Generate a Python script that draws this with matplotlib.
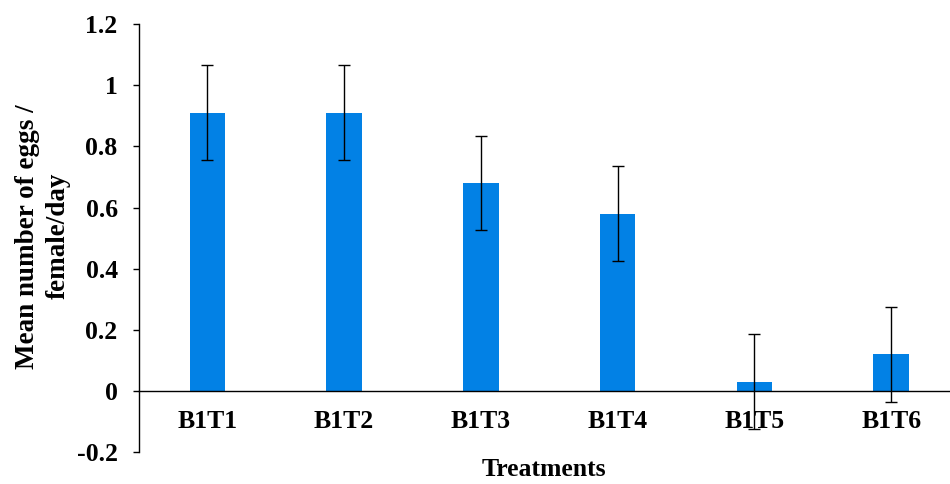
import matplotlib.pyplot as plt
import numpy as np

plt.rcParams['font.family'] = ['Liberation Serif', 'DejaVu Serif']
plt.rcParams['font.weight'] = 'bold'

treatments = ['B1T1', 'B1T2', 'B1T3', 'B1T4', 'B1T5', 'B1T6']
means = [0.91, 0.91, 0.68, 0.58, 0.03, 0.12]
errors = [0.155, 0.155, 0.155, 0.155, 0.155, 0.155]
yticks = [-0.2, 0, 0.2, 0.4, 0.6, 0.8, 1, 1.2]
ytick_labels = ['-0.2', '0', '0.2', '0.4', '0.6', '0.8', '1', '1.2']

fig = plt.figure(figsize=(9.5, 4.84), dpi=100)
ax = fig.add_axes([0.1463, 0.066, 0.8537, 0.884])

x = np.arange(len(treatments))
ax.bar(x, means, width=0.26, color='#0281E5', zorder=2)
ax.errorbar(x, means, yerr=errors, fmt='none', ecolor='black',
            elinewidth=1, capsize=4.2, capthick=1, zorder=3)

ax.set_xlim(-0.5, 5.43)
ax.set_ylim(-0.2, 1.2)
ax.set_yticks(yticks)
ax.set_yticklabels(ytick_labels)
ax.set_xticks(x)
ax.set_xticklabels(treatments)

# x axis line sits at zero, left axis spans the full range
ax.spines['top'].set_visible(False)
ax.spines['right'].set_visible(False)
ax.spines['bottom'].set_position(('data', 0))
ax.spines['left'].set_linewidth(1)
ax.spines['bottom'].set_linewidth(1)

ax.tick_params(axis='y', direction='out', length=4.3, width=1, labelsize=18.5, pad=11)
ax.tick_params(axis='x', length=0, labelsize=18.5, pad=14)

fig.text(0.0447, 0.512, 'Mean number of eggs /\nfemale/day', rotation=90,
         ha='center', va='center', fontsize=19.5, fontweight='bold',
         linespacing=1.3, multialignment='center')
fig.text(0.573, 0.029, 'Treatments', ha='center', va='center',
         fontsize=18.5, fontweight='bold')

fig.savefig('out.png', dpi=100)
